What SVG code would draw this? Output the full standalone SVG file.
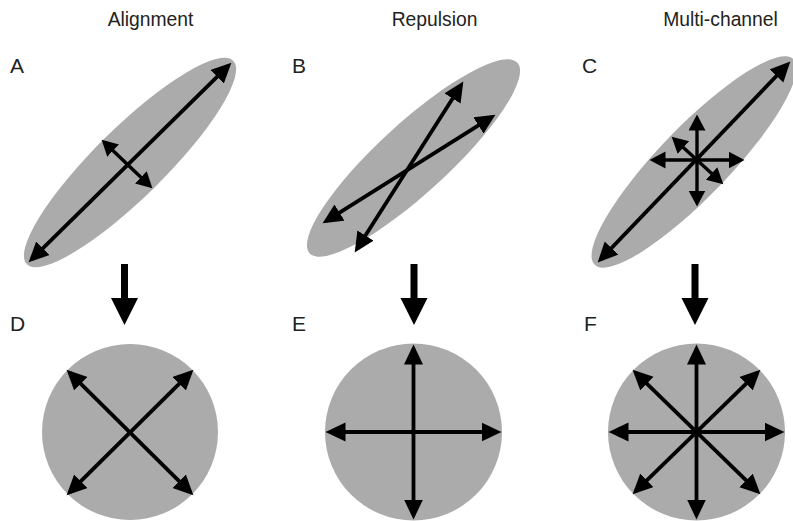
<svg xmlns="http://www.w3.org/2000/svg" width="793" height="521" viewBox="0 0 793 521">
<style>
.t{font-family:"Liberation Sans",Arial,sans-serif;font-size:19.3px;fill:#222;text-anchor:middle}
.l{font-family:"Liberation Sans",Arial,sans-serif;font-size:21px;fill:#222}
.sh{fill:#ababab}
.a{stroke:#000;stroke-width:3.8;fill:none;marker-start:url(#ah);marker-end:url(#ah)}
.s{stroke:#000;stroke-width:3.4;fill:none;marker-start:url(#as);marker-end:url(#as)}
.d{fill:#000}
</style>
<defs>
<marker id="ah" markerUnits="userSpaceOnUse" markerWidth="22" markerHeight="20" refX="15.5" refY="9.5" orient="auto-start-reverse"><path d="M0,0 L20,9.5 L0,19 z" fill="#000"/></marker>
<marker id="as" markerUnits="userSpaceOnUse" markerWidth="18" markerHeight="18" refX="12" refY="8.5" orient="auto-start-reverse"><path d="M0,0 L16,8.5 L0,17 z" fill="#000"/></marker>
</defs>
<rect width="793" height="521" fill="#fff"/>
<g id="titles">
<text class="t" x="150.5" y="26">Alignment</text>
<text class="t" x="434.5" y="26">Repulsion</text>
<text class="t" x="720.5" y="26">Multi-channel</text>
</g>
<g id="nodeA">
<text class="l" x="10" y="73">A</text>
<ellipse class="sh" cx="130" cy="162.5" rx="145" ry="35" transform="rotate(-44.6 130 162.5)"/>
</g>
<g id="nodeB">
<text class="l" x="292" y="73">B</text>
<ellipse class="sh" cx="413.5" cy="158" rx="141" ry="35" transform="rotate(-42.5 413.5 158)"/>
</g>
<g id="nodeC">
<text class="l" x="582" y="73">C</text>
<ellipse class="sh" cx="694" cy="162" rx="143" ry="35" transform="rotate(-46 694 162)"/>
</g>
<g id="nodeD">
<text class="l" x="10" y="331">D</text>
<circle class="sh" cx="130" cy="432" r="88"/>
</g>
<g id="nodeE">
<text class="l" x="292" y="331">E</text>
<circle class="sh" cx="413.5" cy="432" r="88.5"/>
</g>
<g id="nodeF">
<text class="l" x="584" y="331">F</text>
<circle class="sh" cx="696.5" cy="432" r="88.5"/>
</g>
<g id="connectors">
<line class="a" x1="31.8" y1="259.2" x2="228.2" y2="65.8"/>
<line class="s" x1="104.5" y1="142.4" x2="149.5" y2="185.6"/>
<line class="a" x1="357.1" y1="248.6" x2="460.9" y2="85.4"/>
<line class="a" x1="326.4" y1="220.9" x2="491.6" y2="117.1"/>
<line class="a" x1="600.8" y1="259.2" x2="787.2" y2="64.8"/>
<line class="s" x1="697" y1="118.5" x2="697" y2="202.5"/>
<line class="s" x1="653.5" y1="160" x2="740.5" y2="160"/>
<line class="s" x1="674.6" y1="139.4" x2="720.4" y2="181.6"/>
<circle class="d" cx="697" cy="160" r="3.5"/>
<path class="d" d="M121,264 H128 V298 H138 L124.5,325 L111,298 H121 Z"/>
<path class="d" d="M410.5,264 H417.5 V298 H427.5 L414,325 L400.5,298 H410.5 Z"/>
<path class="d" d="M691.5,264 H698.5 V298 H708.5 L695,325 L681.5,298 H691.5 Z"/>
<line class="a" x1="69.8" y1="492.2" x2="190.2" y2="372.8"/>
<line class="a" x1="69.8" y1="372.8" x2="190.2" y2="492.2"/>
<line class="a" x1="413.5" y1="349" x2="413.5" y2="515"/>
<line class="a" x1="330" y1="432" x2="497" y2="432"/>
<line class="a" x1="696.5" y1="349" x2="696.5" y2="515"/>
<line class="a" x1="613" y1="432" x2="780" y2="432"/>
<line class="a" x1="635.8" y1="372.8" x2="757.2" y2="491.2"/>
<line class="a" x1="757.2" y1="372.8" x2="635.8" y2="491.2"/>
<circle class="d" cx="696.5" cy="432" r="3.5"/>
</g>
</svg>
